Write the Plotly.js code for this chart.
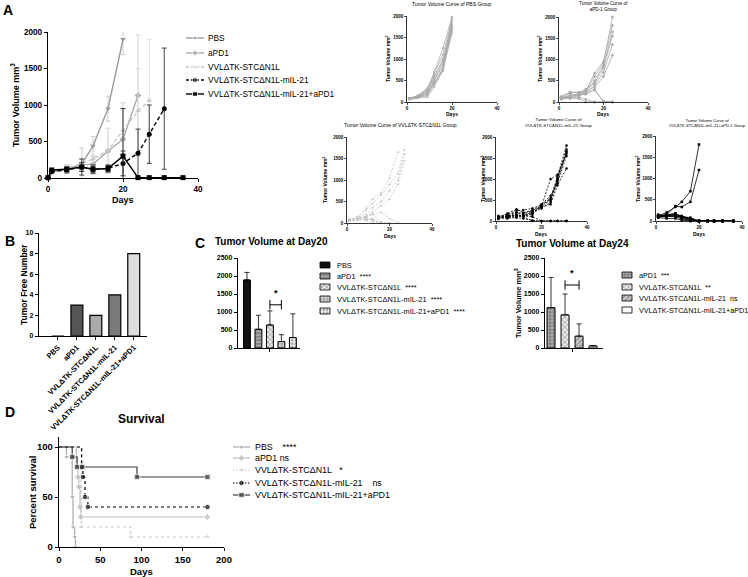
<!DOCTYPE html>
<html><head><meta charset="utf-8">
<script src="https://cdn.plot.ly/plotly-3.0.1.min.js"></script>
<style>html,body{margin:0;padding:0;background:#fff}#chart{width:748px;height:577px}</style>
</head><body><div id="chart"></div>
<script>
// ================= DATA =================
const groups = ['PBS','aPD1','VVLΔTK-STCΔN1L','VVLΔTK-STCΔN1L-mIL-21','VVLΔTK-STCΔN1L-mIL-21+aPD1'];

// Panel A: mean tumour volume (mm3) and error
const aDaysPBS   = [0,1,5,9,12,16,20];
const aMeanPBS   = [5,80,120,190,440,950,1900];
const aErrPBS    = [0,20,60,220,130,170,210];
const aDaysAPD1  = [0,1,5,9,12,16,20,24];
const aMeanAPD1  = [5,80,130,180,190,370,530,1130];
const aErrAPD1   = [0,20,50,80,100,310,500,830];
const aDaysVVL   = [0,1,5,9,12,16,20,24,27];
const aMeanVVL   = [5,80,120,200,260,380,650,920,1060];
const aErrVVL    = [0,20,50,70,100,300,380,580,840];
const aDaysIL21  = [0,1,5,9,12,16,20,24,27,31];
const aMeanIL21  = [5,90,110,150,120,130,200,340,600,950];
const aErrIL21   = [0,20,40,110,60,50,170,330,400,830];
const aDaysCombo = [0,1,5,9,12,16,20,24,27,31,36];
const aMeanCombo = [5,110,120,150,120,130,300,5,5,5,5];
const aErrCombo  = [0,10,30,60,40,40,650,0,0,0,0];

// Individual mouse curves
const pbsDays = [1,5,9,12,16,20];
const pbsMice = [
  [90,130,250,700,1250,1980],[80,120,200,520,900,1950],[70,150,320,650,1100,1900],
  [100,110,180,450,780,1850],[60,90,150,400,750,1800],[90,140,280,560,1000,1760],
  [80,100,220,480,850,1700],[70,160,300,600,950,1650],[100,120,110,350,760,1600],
  [60,110,260,420,720,1720]];
const apd1Days = [1,5,9,12,16,20,24];
const apd1Mice = [
  [120,230,220,260,600,900,2000],[100,130,200,250,680,950,1800],[80,120,180,230,500,850,1650],
  [130,230,230,300,450,800,1550],[60,100,150,200,400,700,1350],[90,140,170,250,350,600,1100],
  [100,150,200,180,300,0,0],[110,100,80,0,0,0,0],[90,200,150,200,280,20,0],[100,80,120,60,0,0,0]];
const vvlDays = [1,5,9,12,16,20,24,27];
const vvlMice = [
  [60,100,350,550,700,1050,1650,null],[80,150,300,450,650,900,1150,1700],
  [50,120,200,350,500,750,1000,1600],[70,90,150,250,400,550,900,1450],
  [80,100,150,200,250,100,0,null],[50,80,100,80,0,0,null,null],
  [90,120,60,0,0,null,null,null],[40,60,80,100,0,null,null,null],
  [70,110,130,50,0,null,null,null],[60,90,150,200,30,0,null,null]];
const il21Days = [1,5,9,12,16,20,24,27,31];
const il21Mice = [
  [100,150,250,260,300,380,550,1050,1800],[80,180,280,200,250,350,500,1000,1700],
  [120,100,200,150,200,300,450,950,1650],[60,120,150,120,180,350,1000,1100,1600],
  [90,80,100,120,150,400,600,900,1550],[70,130,120,130,220,330,400,850,1250],
  [100,90,130,100,0,0,0,0,0],[50,60,80,60,10,0,0,0,0],
  [80,100,140,120,100,0,0,0,0],[110,150,200,180,250,380,520,1000,1650]];
const comboDays = [1,5,9,12,16,20,24,27,31,36];
const comboMice = [
  [120,200,330,450,700,1800,null,null,null,null],[100,150,350,330,450,1200,null,null,null,null],
  [130,150,170,100,80,0,0,0,0,0],[100,120,150,120,50,0,0,0,0,0],
  [110,100,130,80,30,0,0,0,0,0],[90,130,140,70,0,0,0,0,0,0],
  [150,110,100,50,20,0,0,0,0,0],[80,60,60,20,0,0,0,0,0,0],
  [120,140,180,100,60,0,0,0,0,0],[100,120,110,90,40,0,0,0,0,0]];

// Panel B
const tumorFree = [0,3,2,4,8];

// Panel C
const day20Mean = [1890,520,640,180,290];
const day20Err  = [210,390,390,190,660];
const sig20     = ['','****','****','****','****'];
const groups24  = groups.slice(1);
const day24Mean = [1120,920,330,60];
const day24Err  = [840,580,340,0];
const sig24     = ['***','**','ns',''];

// Panel D: Kaplan-Meier
const survT = [
  [0,9,16,17,19,20],
  [0,21,23,24,25.5,26.5,180],
  [0,27,87,180],
  [0,27.5,29,31.5,35,180],
  [0,16,22,28,94.5,180]];
const survP = [
  [100,90,50,20,10,0],
  [100,80,70,60,40,30,30],
  [100,20,10,10],
  [100,80,70,50,40,40],
  [100,90,80,80,70,70]];
const sigSurv = ['****','ns','*','ns',''];

// ================= STYLE / LAYOUT =================
const W = 748, H = 577;
const FONT = 'Liberation Sans, Arial, sans-serif';
const px = x => x / W, py = y => 1 - y / H;
const dxr = (a,b) => [px(a), px(b)];
const dyr = (top,bottom) => [py(bottom), py(top)];

const sym = ['triangle-down','diamond','triangle-up','circle','square'];
const aCol = ['#9a9a9a','#ababab','#c8c8c8','#000000','#000000'];
const aErrCol = ['#cfcfcf','#d6d6d6','#e0e0e0','#444444','#333333'];
const aDash = ['solid','solid','dash','dash','solid'];

const traces = [];
const annotations = [];
const shapes = [];

function ann(text, x, y, o) {
  annotations.push(Object.assign({text, x: px(x), y: py(y), xref:'paper', yref:'paper',
    showarrow:false, xanchor:'center', yanchor:'middle',
    font:{family:FONT, size:10, color:'#000'}}, o||{}));
}
function axis(dom, range, tickvals, fs, extra) {
  return Object.assign({domain: dom, range, tickvals, showline:true, linecolor:'#000', linewidth:1.2,
    ticks:'outside', ticklen:3, tickwidth:1, tickcolor:'#000', showgrid:false, zeroline:false,
    tickfont:{family:FONT, size:fs, color:'#000', weight:'bold'}, automargin:false, fixedrange:true}, extra||{});
}

// ---------- Panel A main ----------
const aDays = [aDaysPBS,aDaysAPD1,aDaysVVL,aDaysIL21,aDaysCombo];
const aMean = [aMeanPBS,aMeanAPD1,aMeanVVL,aMeanIL21,aMeanCombo];
const aErr  = [aErrPBS,aErrAPD1,aErrVVL,aErrIL21,aErrCombo];
for (let i=0;i<5;i++) {
  traces.push({type:'scatter', mode:'lines+markers', x:aDays[i], y:aMean[i], xaxis:'x', yaxis:'y',
    line:{color:aCol[i], width:1.4, dash:aDash[i]==='dash'?'4px,2.5px':'solid'}, marker:{symbol:sym[i], size:5, color:aCol[i]},
    error_y:{type:'data', array:aErr[i], color:aErrCol[i], thickness:1, width:2.5},
    cliponaxis:false, showlegend:false, name:groups[i]});
}
// legend A
const legAy = [38,53,67,80,94];
for (let i=0;i<5;i++) {
  traces.push({type:'scatter', mode:'lines+markers', x:[186,195,204], y:[legAy[i],legAy[i],legAy[i]],
    xaxis:'x11', yaxis:'y11', line:{color:aCol[i], width:1.4, dash:aDash[i]==='dash'?'3px,2px':'solid'},
    marker:{symbol:sym[i], size:[0,5,0], color:aCol[i]}, showlegend:false, hoverinfo:'skip'});
  ann(groups[i], 206, legAy[i], {xanchor:'left', font:{family:FONT, size:8.3, color:'#000'}});
}

// ---------- small individual panels ----------
const small = [
  {days:pbsDays, mice:pbsMice, ax:'2', col:'#aaaaaa', dash:'solid', sym:'triangle-down'},
  {days:apd1Days, mice:apd1Mice, ax:'3', col:'#aaaaaa', dash:'solid', sym:'diamond'},
  {days:vvlDays, mice:vvlMice, ax:'4', col:'#c4c4c4', dash:'dash', sym:'triangle-up'},
  {days:il21Days, mice:il21Mice, ax:'5', col:'#000000', dash:'dash', sym:'circle'},
  {days:comboDays, mice:comboMice, ax:'6', col:'#000000', dash:'solid', sym:'square'}];
small.forEach(s => {
  s.mice.forEach(m => traces.push({type:'scatter', mode:'lines+markers', x:s.days, y:m,
    xaxis:'x'+s.ax, yaxis:'y'+s.ax, line:{color:s.col, width:0.8, dash:s.dash==='dash'?'2px,1.5px':'solid'},
    marker:{symbol:s.sym, size:2.5, color:s.col}, cliponaxis:false, showlegend:false, hoverinfo:'skip'}));
});

// ---------- Panel B ----------
traces.push({type:'bar', x:[0,1,2,3,4], y:tumorFree, xaxis:'x7', yaxis:'y7', width:0.63,
  marker:{color:['#ffffff','#555555','#aaaaaa','#7a7a7a','#dddddd'], line:{color:'#000', width:1.2}},
  showlegend:false, hoverinfo:'skip'});

// ---------- Panel C ----------
const pat20 = {shape:['','-','x','+','.'], fg:['#111','#555','#555','#777','#555'], bg:['#111111','#a8a8a8','#e8e8e8','#d8d8d8','#f2f2f2']};
const pat24 = {shape:['.','x','/',''], fg:['#333','#555','#222','#fff'], bg:['#a8a8a8','#eeeeee','#cfcfcf','#ffffff']};
const patObj = p => ({shape:p.shape, fgcolor:p.fg, size:3.5, solidity:0.4, fillmode:'overlay'});
traces.push({type:'bar', x:[0,1,2,3,4], y:day20Mean, xaxis:'x8', yaxis:'y8', width:0.6,
  marker:{color:pat20.bg, line:{color:'#000', width:1}, pattern:patObj(pat20)},
  error_y:{type:'data', symmetric:false, array:day20Err, arrayminus:[0,0,0,0,0], color:'#000', thickness:0.8, width:2.5},
  showlegend:false, hoverinfo:'skip', cliponaxis:false});
traces.push({type:'bar', x:[0,1,2,3], y:day24Mean, xaxis:'x9', yaxis:'y9', width:0.57,
  marker:{color:pat24.bg, line:{color:'#000', width:1}, pattern:patObj(pat24)},
  error_y:{type:'data', symmetric:false, array:day24Err, arrayminus:[0,0,0,0], color:'#000', thickness:0.8, width:2.5},
  showlegend:false, hoverinfo:'skip', cliponaxis:false});
// legend keys C
const legC20y = [265,276,287,299,311];
traces.push({type:'bar', orientation:'h', base:legC20y.map(()=>320), x:legC20y.map(()=>10), y:legC20y, width:6,
  xaxis:'x11', yaxis:'y11', marker:{color:pat20.bg, line:{color:'#000', width:0.8}, pattern:patObj(pat20)},
  showlegend:false, hoverinfo:'skip'});
groups.forEach((g,i) => ann(g + (sig20[i] ? '\u00a0\u00a0' + sig20[i] : ''), 335, legC20y[i], {xanchor:'left', font:{family:FONT, size:7.4, color:'#000'}}));
const legC24y = [275,287,298,310];
traces.push({type:'bar', orientation:'h', base:legC24y.map(()=>622), x:legC24y.map(()=>10), y:legC24y, width:6,
  xaxis:'x11', yaxis:'y11', marker:{color:pat24.bg, line:{color:'#000', width:0.8}, pattern:patObj(pat24)},
  showlegend:false, hoverinfo:'skip'});
groups24.forEach((g,i) => ann(g + (sig24[i] ? '\u00a0\u00a0' + sig24[i] : ''), 637, legC24y[i], {xanchor:'left', font:{family:FONT, size:7.2, color:'#000'}}));
// significance brackets
function bracket(xa, ya, x0, x1, yv, dy) {
  const L = {color:'#000', width:1};
  shapes.push({type:'line', xref:xa, yref:ya, x0, x1, y0:yv, y1:yv, line:L});
  shapes.push({type:'line', xref:xa, yref:ya, x0, x1:x0, y0:yv-dy, y1:yv+dy, line:L});
  shapes.push({type:'line', xref:xa, yref:ya, x0:x1, x1, y0:yv-dy, y1:yv+dy, line:L});
  annotations.push({text:'*', xref:xa, yref:ya, x:(x0+x1)/2, y:yv+dy, yanchor:'bottom', showarrow:false,
    font:{family:FONT, size:9, color:'#000', weight:'bold'}});
}
bracket('x8','y8',2,3,1200,130);
bracket('x9','y9',1,2,1750,130);

// ---------- Panel D ----------
const dCol = ['#a8a8a8','#bdbdbd','#c8c8c8','#000000','#3a3a3a'];
const dDash = ['solid','solid','dot','dot','solid'];
for (let i=0;i<5;i++) {
  traces.push({type:'scatter', mode:'lines+markers', x:survT[i], y:survP[i], xaxis:'x10', yaxis:'y10',
    line:{shape:'hv', color:dCol[i], width:1.2, dash:dDash[i]},
    marker:{symbol:sym[i], color:dCol[i], size:survT[i].map((t,k)=>k===0?0:5.5)},
    cliponaxis:false, showlegend:false, hoverinfo:'skip'});
}
const legDy = [447,458,470,483,495];
const legDgap = ['\u00a0\u00a0\u00a0\u00a0','\u00a0','\u00a0\u00a0\u00a0','\u00a0\u00a0\u00a0\u00a0',''];
for (let i=0;i<5;i++) {
  traces.push({type:'scatter', mode:'lines+markers', x:[233,241.5,250], y:[legDy[i],legDy[i],legDy[i]],
    xaxis:'x11', yaxis:'y11', line:{color:dCol[i], width:1.2, dash:dDash[i]==='dot'?'1.5px,1.5px':'solid'},
    marker:{symbol:sym[i], size:[0,5.5,0], color:dCol[i]}, showlegend:false, hoverinfo:'skip'});
  ann(groups[i] + (sigSurv[i] ? legDgap[i] + sigSurv[i] : ''), 253, legDy[i],
      {xanchor:'left', font:{family:FONT, size:8.9, color:'#000'}});
}

// ---------- text: panel letters, titles, axis titles ----------
const L = (t,x,y) => ann(t, x, y, {xanchor:'left', font:{family:FONT, size:14, color:'#000', weight:'bold'}});
L('A',1,10); L('B',3,241); L('C',193,243); L('D',3,412);
const bold = s => ({family:FONT, size:s, color:'#000', weight:'bold'});
ann('Tumor Volume mm<sup>3</sup>', 15, 105, {textangle:-90, font:bold(9)});
ann('Days', 123, 200, {font:bold(9)});
ann('Tumor Free Number', 24, 285, {textangle:-90, font:bold(8.5)});
ann('Tumor Volume at Day20', 271, 241, {font:bold(10)});
ann('Tumor Volume at Day24', 572, 243, {font:bold(10)});
ann('Tumor Volume mm<sup>3</sup>', 518, 303, {textangle:-90, font:bold(7.5)});
ann('Survival', 141, 419, {font:bold(12)});
ann('Percent survival', 32, 492, {textangle:-90, font:bold(9.5)});
ann('Days', 141, 571, {font:bold(9.5)});
// small panel titles
const sm = s => ({family:FONT, size:s, color:'#000'});
ann('Tumor Volume Curve of PBS Group', 452, 4, {font:sm(5)});
ann('Tumor Volume Curve of<br>aPD-1 Group', 603, 6, {font:sm(4.6)});
ann('Tumor Volume Curve of VVLΔTK-STCΔN1L Group', 400, 125, {font:sm(5)});
ann('Tumor Volume Curve of<br>VVLΔTK-STCΔN1L-mIL-21 Group', 558, 123, {font:sm(4.4)});
ann('Tumor Volume Curve of<br>VVLΔTK-STCΔN1L-mIL-21+aPD-1 Group', 707, 123, {font:sm(4.1)});
[[388,59,452,114],[540,59,603,114],[325,180,390,236],[483,179,541,234],[638,179,699,234]].forEach(p => {
  ann('Tumor Volume mm<sup>3</sup>', p[0], p[1], {textangle:-90, font:bold(5)});
  ann('Days', p[2], p[3], {font:bold(5)});
});

// ---------- axes ----------
const sTick = [0,500,1000,1500,2000];
const smallAx = (xd, yd) => [
  axis(dxr(xd[0],xd[1]), [0,40], [0,20,40], 4.5, {linewidth:0.8, ticklen:2, tickwidth:0.7}),
  axis(dyr(yd[0],yd[1]), [0,2000], sTick, 4.5, {linewidth:0.8, ticklen:2, tickwidth:0.7})];
const [x2,y2] = smallAx([407,497],[16,102]);
const [x3,y3] = smallAx([559,648],[17,102]);
const [x4,y4] = smallAx([347,432],[137,223]);
const [x5,y5] = smallAx([496,587],[137,221]);
const [x6,y6] = smallAx([656,742],[136,221]);

const layout = {
  width:W, height:H, margin:{l:0,r:0,t:0,b:0}, paper_bgcolor:'#fff', plot_bgcolor:'rgba(0,0,0,0)',
  showlegend:false, barmode:'overlay', font:{family:FONT, color:'#000'},
  xaxis: axis(dxr(48,198), [0,40], [0,20,40], 8.2, {anchor:'y'}),
  yaxis: axis(dyr(32,178), [0,2000], sTick, 8.2, {anchor:'x'}),
  xaxis2: Object.assign(x2,{anchor:'y2'}), yaxis2: Object.assign(y2,{anchor:'x2'}),
  xaxis3: Object.assign(x3,{anchor:'y3'}), yaxis3: Object.assign(y3,{anchor:'x3'}),
  xaxis4: Object.assign(x4,{anchor:'y4'}), yaxis4: Object.assign(y4,{anchor:'x4'}),
  xaxis5: Object.assign(x5,{anchor:'y5'}), yaxis5: Object.assign(y5,{anchor:'x5'}),
  xaxis6: Object.assign(x6,{anchor:'y6'}), yaxis6: Object.assign(y6,{anchor:'x6'}),
  xaxis7: axis(dxr(39,147), [-1,4.7], [0,1,2,3,4], 7.5, {anchor:'y7', ticktext:groups, tickangle:-45}),
  yaxis7: axis(dyr(233,336), [0,10], [0,2,4,6,8,10], 7, {anchor:'x7'}),
  xaxis8: axis(dxr(238,300), [-0.78,4.62], [2], 7, {anchor:'y8', showticklabels:false}),
  yaxis8: axis(dyr(258,348), [0,2500], [0,500,1000,1500,2000,2500], 7, {anchor:'x8'}),
  xaxis9: axis(dxr(545,603), [-0.43,3.71], [1.5], 7, {anchor:'y9', showticklabels:false}),
  yaxis9: axis(dyr(258,348), [0,2500], [0,500,1000,1500,2000,2500], 7, {anchor:'x9'}),
  xaxis10: axis(dxr(59,224), [0,200], [0,50,100,150,200], 9.5, {anchor:'y10'}),
  yaxis10: axis(dyr(437,547), [0,110], [0,50,100], 9.5, {anchor:'x10'}),
  xaxis11: {domain:[0,1], range:[0,W], visible:false, anchor:'y11', fixedrange:true},
  yaxis11: {domain:[0,1], range:[H,0], visible:false, anchor:'x11', fixedrange:true},
  annotations, shapes
};
Plotly.newPlot('chart', traces, layout, {staticPlot:true, displayModeBar:false});
</script></body></html>
